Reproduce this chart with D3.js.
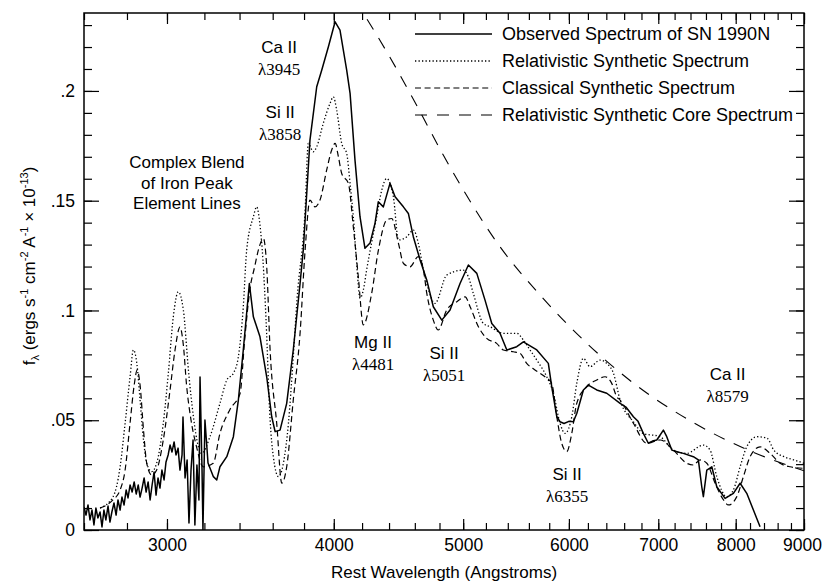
<!DOCTYPE html>
<html>
<head>
<meta charset="utf-8">
<script src="https://cdn.jsdelivr.net/npm/d3@7"></script>
<style>
  body { margin: 0; background: #fff; }
  svg { display: block; font-family: 'Liberation Sans', Arial, sans-serif; }
</style>
</head>
<body>
<svg id="chart" width="823" height="582"></svg>
<script>
'use strict'

// [wavelength (A), flux] pairs
const observed = [
  [2600, .0105], [2609, .0068], [2618, .0114], [2627, .0046], [2636, .0091], [2645, .0023], [2654, .0100], [2663, .0055],
  [2673, .0082], [2682, .0014], [2691, .0091], [2700, .0046], [2710, .0109], [2719, .0036], [2728, .0082], [2738, .0123],
  [2748, .0068], [2757, .0137], [2767, .0091], [2776, .0150], [2786, .0114], [2796, .0182], [2805, .0146], [2815, .0205],
  [2825, .0173], [2835, .0219], [2845, .0164], [2855, .0205], [2864, .0150], [2874, .0191], [2884, .0237], [2894, .0173],
  [2904, .0219], [2914, .0137], [2924, .0205], [2934, .0264], [2944, .0159], [2954, .0237], [2964, .0191], [2974, .0273],
  [2985, .0228], [2995, .0310], [3006, .0342], [3016, .0387], [3026, .0355], [3037, .0401], [3047, .0342], [3058, .0373],
  [3068, .0273], [3079, .0342], [3084, .0515], [3095, .0237], [3106, .0319], [3116, .0032], [3127, .0273], [3138, .0410],
  [3148, .0023], [3159, .0296], [3170, .0137], [3176, .0697], [3187, .0273], [3192, .0000], [3203, .0501], [3220, .0305],
  [3250, .0243], [3269, .0228], [3287, .0288], [3326, .0334], [3364, .0425], [3393, .0592], [3422, .0820], [3458, .1123],
  [3482, .0971], [3522, .0880], [3563, .0698], [3594, .0516], [3615, .0448], [3646, .0455], [3688, .0577], [3730, .0820],
  [3774, .1123], [3795, .1275], [3839, .1776], [3884, .2019], [3918, .2095], [3963, .2201], [4009, .2315], [4043, .2277],
  [4090, .2095], [4114, .1989], [4149, .1685], [4185, .1427], [4221, .1283], [4258, .1307], [4295, .1398], [4319, .1495],
  [4357, .1472], [4407, .1579], [4446, .1518], [4510, .1472], [4549, .1442], [4588, .1336], [4642, .1230], [4696, .1138],
  [4749, .1017], [4819, .0956], [4888, .1002], [4973, .1123], [5045, .1207], [5119, .1169], [5192, .1047], [5253, .0941],
  [5328, .0896], [5391, .0820], [5484, .0835], [5547, .0857], [5677, .0820], [5791, .0759], [5825, .0653], [5876, .0516],
  [5909, .0493], [5950, .0485], [6000, .0495], [6046, .0493], [6082, .0531], [6152, .0638], [6205, .0660], [6295, .0638],
  [6405, .0623], [6554, .0577], [6620, .0560], [6706, .0516], [6760, .0495], [6822, .0440], [6881, .0395], [6930, .0405],
  [6982, .0410], [7062, .0455], [7103, .0425], [7165, .0364], [7240, .0355], [7309, .0349], [7437, .0334], [7501, .0319],
  [7545, .0197], [7566, .0152], [7611, .0273], [7677, .0288], [7743, .0197], [7855, .0144], [7968, .0167], [8061, .0213],
  [8154, .0167], [8248, .0091], [8343, .0015]
]

const relativistic = [
  [2673, .010], [2733, .015], [2767, .0287], [2791, .0486], [2815, .0698], [2831, .082], [2848, .0759], [2864, .0592],
  [2881, .041], [2897, .0304], [2922, .0266], [2947, .0304], [2981, .0486], [3007, .0714], [3033, .0971], [3059, .1085],
  [3086, .1002], [3113, .0729], [3140, .0516], [3167, .0379], [3185, .0349], [3231, .0425], [3287, .0577], [3326, .0683],
  [3364, .0714], [3393, .0789], [3422, .1017], [3442, .1275], [3482, .1427], [3502, .1472], [3522, .1389], [3540, .1230],
  [3559, .0956], [3584, .0501], [3604, .0334], [3636, .0243], [3667, .0304], [3699, .0486], [3730, .0789], [3754, .1047],
  [3807, .1457], [3828, .1761], [3861, .1723], [3884, .1746], [3928, .1852], [3974, .1943], [3997, .1973], [4020, .1913],
  [4055, .1761], [4090, .1715], [4114, .1579], [4137, .1427], [4161, .1214], [4185, .1056], [4209, .1093], [4233, .1184],
  [4307, .1427], [4345, .1548], [4382, .1601], [4433, .1518], [4472, .1321], [4537, .1336], [4589, .1366], [4628, .1306],
  [4669, .1184], [4696, .1123], [4763, .1032], [4860, .1161], [5001, .1184], [5045, .1153], [5088, .1078], [5177, .0941],
  [5237, .0926], [5359, .0896], [5484, .0896], [5547, .0865], [5611, .0820], [5677, .0774], [5775, .0698], [5842, .0623],
  [5909, .0486], [5961, .0440], [6030, .0516], [6082, .0668], [6152, .0782], [6223, .0744], [6331, .0774], [6405, .0759],
  [6479, .0714], [6554, .0592], [6706, .0493], [6822, .0440], [7022, .0425], [7185, .0364], [7352, .0349], [7566, .0387],
  [7654, .0364], [7743, .0243], [7877, .0152], [7968, .0182], [8061, .0288], [8154, .0379], [8299, .0425], [8445, .0418],
  [8543, .0364], [8694, .0334], [8848, .0319], [9000, .0304]
]

const classical = [
  [2673, .010], [2733, .0137], [2767, .0182], [2791, .0273], [2815, .0487], [2835, .066], [2850, .0729], [2864, .066],
  [2881, .0455], [2897, .0305], [2922, .025], [2947, .0273], [2981, .041], [3016, .0638], [3042, .082], [3068, .0924],
  [3086, .0842], [3103, .066], [3127, .0501], [3157, .0379], [3193, .0288], [3249, .0304], [3287, .044], [3345, .0550],
  [3403, .0622], [3430, .0865], [3462, .1100], [3490, .1200], [3512, .1275], [3543, .1328], [3563, .1199], [3584, .082],
  [3625, .0486], [3657, .0213], [3688, .0288], [3730, .0592], [3774, .0896], [3807, .1275], [3839, .1503], [3872, .1472],
  [3906, .1503], [3951, .1639], [3985, .1730], [4009, .1761], [4032, .1700], [4055, .1624], [4102, .1579], [4137, .1381],
  [4173, .1153], [4209, .0934], [4270, .1078], [4320, .1275], [4382, .1412], [4420, .1419], [4472, .1306], [4511, .1214],
  [4562, .1199], [4627, .1245], [4669, .1184], [4696, .1078], [4749, .0956], [4789, .0911], [4860, .1002], [4946, .1040],
  [5017, .1062], [5060, .1017], [5133, .0926], [5207, .0873], [5297, .0850], [5359, .0820], [5452, .0812], [5515, .0805],
  [5579, .0759], [5659, .0729], [5758, .0698], [5825, .0668], [5876, .0516], [5926, .0395], [5978, .0357], [6030, .0440],
  [6082, .0577], [6187, .0653], [6295, .0683], [6386, .0698], [6460, .0668], [6516, .0607], [6554, .0592], [6706, .0486],
  [6862, .0395], [7022, .0410], [7185, .0364], [7352, .0304], [7437, .0296], [7523, .0319], [7611, .0304], [7721, .0213],
  [7833, .0137], [7900, .0114], [8015, .0152], [8107, .0243], [8201, .0334], [8343, .0379], [8489, .0349], [8636, .0304],
  [8787, .0288], [9000, .0281]
]

const core = [
  [4150, .241], [4207, .2355], [4400, .216], [4600, .195], [4829, .171], [5000, .155], [5328, .129], [5710, .107],
  [6190, .085], [6703, .067], [7433, .049], [8200, .036], [9000, .027]
]

const xMajorTicks = [3000, 4000, 5000, 6000, 7000, 8000, 9000]
const xMinorTicks = d3.range(2600, 9001, 200)
const yMajorTicks = [0, 0.05, 0.1, 0.15, 0.2]
const yMinorTicks = d3.range(0, 0.2305, 0.01)

const seriesLabels = ['Observed Spectrum of SN 1990N', 'Relativistic Synthetic Spectrum', 'Classical Synthetic Spectrum', 'Relativistic Synthetic Core Spectrum']

const annotations = [
  { wave: 3640, flux: .2172, lines: ['Ca II', 'λ3945'] },
  { wave: 3647, flux: .1876, lines: ['Si II', 'λ3858'] },
  { wave: 3105, flux: .1648, lines: ['Complex Blend', 'of Iron Peak', 'Element Lines'] },
  { wave: 4280, flux: .0829, lines: ['Mg II', 'λ4481'] },
  { wave: 4838, flux: .0779, lines: ['Si II', 'λ5051'] },
  { wave: 5981, flux: .0228, lines: ['Si II', 'λ6355'] },
  { wave: 7889, flux: .0683, lines: ['Ca II', 'λ8579'] }
]

const svg = d3.select('#chart')
const margin = { top: 13, right: 19, bottom: 52, left: 84 }
const width = 823 - margin.left - margin.right
const height = 582 - margin.top - margin.bottom

const x = d3.scaleLog().domain([2600, 9000]).range([0, width])
const y = d3.scaleLinear().domain([0, 0.2355]).range([height, 0])

const g = svg.append('g').attr('transform', `translate(${margin.left}, ${margin.top})`)

svg.append('defs').append('clipPath').attr('id', 'plot-clip')
  .append('rect').attr('width', width).attr('height', height)

// ticks, all pointing inward
const sans = "'Liberation Sans', Arial, sans-serif"
const yFormat = d => d === 0 ? '0' : d3.format('.2~f')(d).replace(/^0/, '')

function addAxis(axis, transform) {
  let a = g.append('g').attr('transform', transform).call(axis)
  a.select('.domain').remove()
  a.selectAll('line').attr('stroke-width', 1.2)
  a.attr('font-size', 17.5).attr('font-family', sans)
  return a
}

addAxis(d3.axisBottom(x).tickValues(xMinorTicks).tickSize(-7).tickFormat(''), `translate(0, ${height})`)
let xLabels = addAxis(d3.axisBottom(x).tickValues(xMajorTicks).tickSize(-11).tickPadding(9).tickFormat(d3.format('d')), `translate(0, ${height})`)
// keep the last label inside the page
xLabels.selectAll('text').filter(d => d === 9000).attr('dx', -2)
addAxis(d3.axisTop(x).tickValues(xMinorTicks).tickSize(-7).tickFormat(''), 'translate(0, 0)')
addAxis(d3.axisTop(x).tickValues(xMajorTicks).tickSize(-11).tickFormat(''), 'translate(0, 0)')
addAxis(d3.axisLeft(y).tickValues(yMinorTicks).tickSize(-8).tickFormat(''), 'translate(0, 0)')
addAxis(d3.axisLeft(y).tickValues(yMajorTicks).tickSize(-15).tickPadding(9).tickFormat(yFormat), 'translate(0, 0)')
addAxis(d3.axisRight(y).tickValues(yMinorTicks).tickSize(-8).tickFormat(''), `translate(${width}, 0)`)
addAxis(d3.axisRight(y).tickValues(yMajorTicks).tickSize(-15).tickFormat(''), `translate(${width}, 0)`)

g.append('rect')
  .attr('width', width)
  .attr('height', height)
  .attr('fill', 'none')
  .attr('stroke', '#000')
  .attr('stroke-width', 1.5)

// spectra
const smooth = d3.line().x(d => x(d[0])).y(d => y(d[1])).curve(d3.curveMonotoneX)
const rough = d3.line().x(d => x(d[0])).y(d => y(d[1]))

const styles = [
  { width: 1.5, dash: null },
  { width: 1.3, dash: '1.3,2.2' },
  { width: 1.2, dash: '6,3.6' },
  { width: 1.1, dash: '12,10' }
]

let plot = g.append('g').attr('clip-path', 'url(#plot-clip)')

plot.selectAll('path.spectrum')
  .data([[observed, rough], [relativistic, smooth], [classical, smooth], [core, smooth]])
  .enter()
  .append('path')
  .attr('class', 'spectrum')
  .attr('d', (d) => d[1](d[0]))
  .attr('fill', 'none')
  .attr('stroke', '#000')
  .attr('stroke-linejoin', 'round')
  .attr('stroke-width', (d, i) => styles[i].width)
  .attr('stroke-dasharray', (d, i) => styles[i].dash)

// legend
let legend = g.append('g').attr('font-size', 18).attr('font-family', sans)
  .selectAll('g').data(seriesLabels).enter().append('g')
  .attr('transform', (d, i) => `translate(331, ${21 + i * 27})`)

legend.append('line')
  .attr('x1', 0).attr('x2', 77)
  .attr('stroke', '#000')
  .attr('stroke-width', (d, i) => styles[i].width)
  .attr('stroke-dasharray', (d, i) => styles[i].dash)

legend.append('text')
  .attr('x', 87)
  .attr('dy', '0.36em')
  .text(d => d)

// line identifications
annotations.forEach(a => {
  let t = g.append('text')
    .attr('x', x(a.wave))
    .attr('y', y(a.flux))
    .attr('text-anchor', 'middle')
    .attr('font-size', 17)
  let step = a.lines.length > 2 ? 20.5 : 22
  a.lines.forEach((s, i) => {
    t.append('tspan')
      .attr('x', x(a.wave))
      .attr('y', y(a.flux) + i * step)
      .attr('font-family', s.startsWith('λ') ? "'Liberation Serif', 'Times New Roman', serif" : sans)
      .text(s)
  })
})

// axis titles
svg.append('text')
  .attr('x', margin.left + width / 2)
  .attr('y', 578)
  .attr('text-anchor', 'middle')
  .attr('font-size', 17)
  .text('Rest Wavelength (Angstroms)')

let yTitle = svg.append('text')
  .attr('transform', 'translate(35, 266) rotate(-90)')
  .attr('text-anchor', 'middle')
  .attr('font-size', 17)

const yTitleParts = [['f', 0], ['λ', 4], [' (ergs s', 0], ['-1', -7], [' cm', 0], ['-2', -7], [' A', 0], ['-1', -7], [' × 10', 0], ['-13', -7], [')', 0]]
let shift = 0
yTitleParts.forEach(p => {
  yTitle.append('tspan')
    .attr('dy', p[1] - shift)
    .attr('font-size', p[1] === 0 ? 17 : 11)
    .text(p[0])
  shift = p[1]
})
</script>
</body>
</html>
